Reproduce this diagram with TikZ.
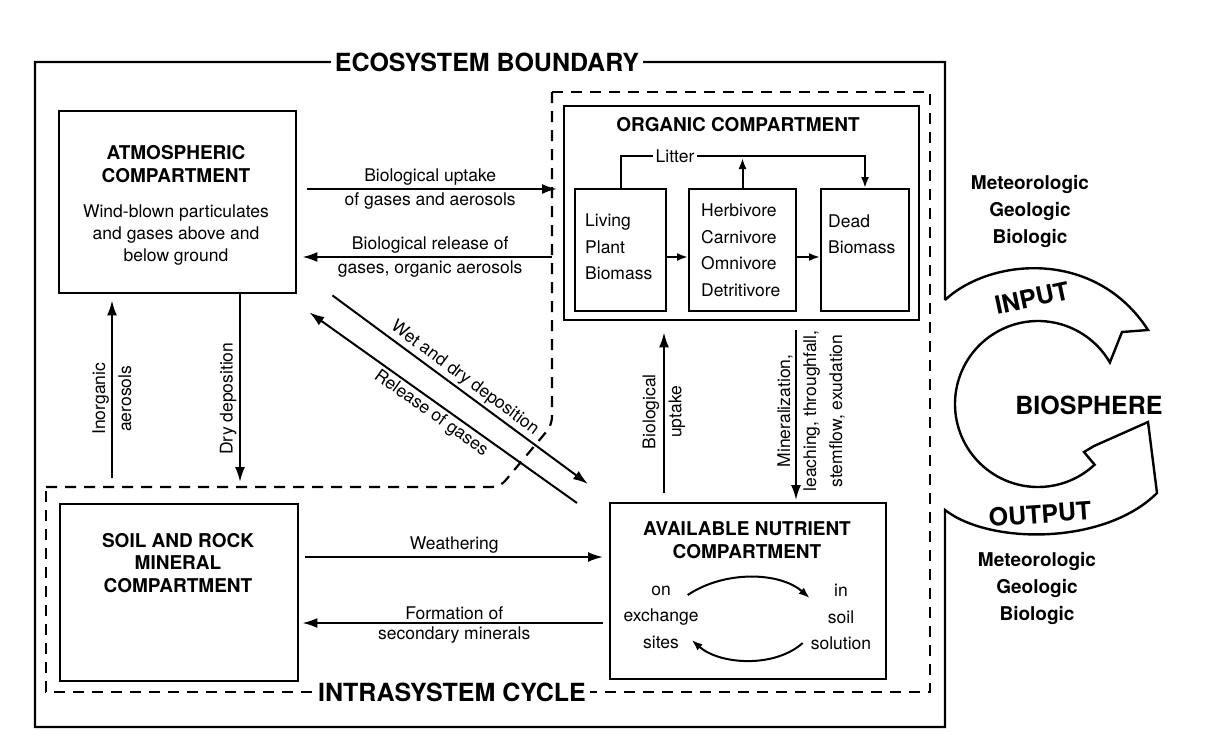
\documentclass[tikz,border=0pt]{standalone}
\usepackage{fontspec}
\setmainfont{TeX Gyre Heros}
\usetikzlibrary{arrows.meta,positioning}

\tikzset{
  bnd/.style={line width=2.4pt},
  dsh/.style={line width=2.2pt, dash pattern=on 11pt off 8pt},
  box/.style={draw, line width=2.4pt, inner sep=0pt, anchor=north west},
  cell/.style={draw, line width=2pt, inner sep=0pt, anchor=north west, minimum height=122pt},
  arr/.style={line width=2pt, -{Latex[length=15pt,width=10pt]}},
  sarr/.style={line width=2pt, -{Latex[length=11pt,width=8pt]}},
  lbl/.style={font=\fontsize{17.5}{22}\selectfont, align=center, inner sep=2.5pt},
  lbltwo/.style={font=\fontsize{17.5}{26}\selectfont, align=center, inner sep=0pt},
  cellt/.style={font=\fontsize{17.5}{26.5}\selectfont, align=left, anchor=west, inner sep=0pt},
  ttl/.style={font=\bfseries\fontsize{19}{22.5}\selectfont, align=center, inner sep=1pt},
  src/.style={font=\bfseries\fontsize{19}{27}\selectfont, align=center},
  big/.style={font=\bfseries\fontsize{25}{30}\selectfont, inner sep=4pt},
}

\begin{document}
\begin{tikzpicture}[x=1pt,y=-1pt]
\useasboundingbox (0,0) rectangle (1210,737);

\draw[bnd] (945,300) -- (945,62) -- (35,62) -- (35,727) -- (945,727) -- (945,510)
  .. controls (990,545) and (1105,545) .. (1157,493)
  -- (1148,422) -- (1094,446) -- (1084,452) -- (1094.6,464.7)
  arc[start angle=47, end angle=330, radius=83]
  -- (1122,332) -- (1148,330)
  .. controls (1095,248) and (990,258) .. (945,300);
\draw[dsh] (552,92) -- (930,92) -- (930,692) -- (46,692) -- (46,487);
\draw[dsh, rounded corners=8pt] (46,487) -- (500,487) -- (552,425) -- (552,92);

\node[big, fill=white] (eco)   at (487,62)  {ECOSYSTEM BOUNDARY};
\node[big, fill=white] (intra) at (452,692) {INTRASYSTEM CYCLE};

\node[box, minimum width=237pt, minimum height=182pt] (atm) at (58,110) {};
\node[ttl] (atmT) at (176,164) {ATMOSPHERIC\\COMPARTMENT};
\node[lbl] (atmX) at (176,235) {Wind-blown particulates\\and gases above and\\below ground};

\node[box, minimum width=355pt, minimum height=214pt] (org) at (563,105) {};
\node[ttl] (orgT) at (738,125) {ORGANIC COMPARTMENT};
\node[cell, minimum width=91pt]  (liv)  at (574,188) {};
\node[cell, minimum width=107pt] (herb) at (688,188) {};
\node[cell, minimum width=88pt]  (dead) at (820,188) {};
\node[cellt] (livT)  at (585,247) {Living\\Plant\\Biomass};
\node[cellt] (herbT) at (701,250) {Herbivore\\Carnivore\\Omnivore\\Detritivore};
\node[cellt] (deadT) at (828,234) {Dead\\Biomass};
\draw[sarr] (liv.north) -- ++(0,-32) -| (dead.north);
\node[lbl, fill=white, inner sep=3pt] (lit) at (675,156) {Litter};
\draw[sarr] (herb.north) -- ++(0,-30);
\draw[sarr] (liv.east |- 0,257)  -- (herb.west |- 0,257);
\draw[sarr] (herb.east |- 0,257) -- (dead.west |- 0,257);

\node[box, minimum width=276pt, minimum height=176pt] (nut) at (609,502) {};
\node[ttl] (nutT) at (747,540) {AVAILABLE NUTRIENT\\COMPARTMENT};
\node[cellt, align=center, anchor=center] (exch) at (661,617) {on\\exchange\\sites};
\node[cellt, align=center, anchor=center] (soln) at (841,617) {in\\soil\\solution};
\draw[sarr] ([shift={(-11,-22)}]exch.east) .. controls (725,570) and (780,572) .. ([shift={(-1,-19)}]soln.west);
\draw[sarr] ([shift={(-8,26)}]soln.west) .. controls (775,668) and (720,665) .. ([shift={(-7,23)}]exch.east);

\node[box, minimum width=238pt, minimum height=177pt] (soil) at (59,503) {};
\node[ttl] (soilT) at (178,563) {SOIL AND ROCK\\MINERAL\\COMPARTMENT};

\draw[arr, shorten <=10pt, shorten >=6pt] (atm.east |- 0,189) -- node[lbl, above] {Biological uptake}
  node[lbl, below] {of gases and aerosols} (org.west |- 0,189);
\draw[arr, shorten <=11pt, shorten >=5pt] (org.west |- 0,257) -- node[lbl, above] {Biological release of}
  node[lbl, below] {gases, organic aerosols} (atm.east |- 0,257);

\draw[arr, shorten <=25pt, shorten >=6pt] (soil.north -| 112,0) -- node[lbltwo, rotate=90] {Inorganic\\aerosols} (atm.south -| 112,0);
\draw[arr, shorten >=21pt] (atm.south -| 240,0) -- node[lbl, rotate=90, above] {Dry deposition} (soil.north -| 240,0);

\draw[arr] ([shift={(35,1)}]atm.south east) -- node[lbl, sloped, above, pos=0.49] {Wet and dry deposition} ([shift={(-21,-18)}]nut.north west);
\draw[arr] ([shift={(-32,1)}]nut.north west) -- node[lbl, sloped, below, pos=0.52] {Release of gases} ([shift={(12,18)}]atm.south east);

\draw[arr, shorten <=9pt, shorten >=11pt] (nut.north -| 664,0) -- node[lbltwo, rotate=90] {Biological\\uptake} (org.south -| 664,0);
\draw[arr, shorten <=9pt, shorten >=2pt] (org.south -| 796,0) -- (nut.north -| 796,0);
\node[lbltwo, rotate=90] (minL) at (811,411) {Mineralization,\\leaching, throughfall,\\stemflow, exudation};

\draw[arr, shorten <=6pt, shorten >=6pt] (soil.east |- 0,557) -- node[lbl, above] {Weathering} (nut.west |- 0,557);
\draw[arr, shorten <=6pt, shorten >=3pt] (nut.west |- 0,623) -- node[lbl, above] {Formation of}
  node[lbl, below] {secondary minerals} (soil.east |- 0,623);

\node[big] (bio) at (1089,405) {BIOSPHERE};
\node[big, rotate=12] (inp)  at (1032,298) {INPUT};
\node[big, rotate=4]  (outp) at (1040,514) {OUTPUT};
\node[src] (srcIn)  at (1030,211) {Meteorologic\\Geologic\\Biologic};
\node[src] (srcOut) at (1037,588) {Meteorologic\\Geologic\\Biologic};
\end{tikzpicture}
\end{document}
